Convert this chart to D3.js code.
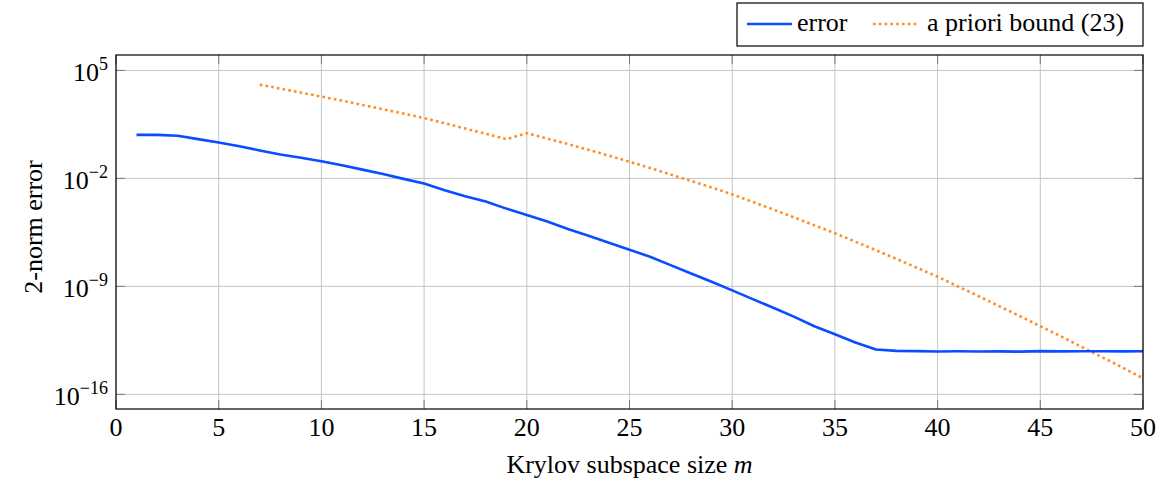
<!DOCTYPE html>
<html>
<head>
<meta charset="utf-8">
<script src="https://cdn.jsdelivr.net/npm/d3@7"></script>
<style>
  body { margin: 0; background: #fff; }
  text { font-family: "Liberation Serif", "Times New Roman", serif; fill: #000; }
</style>
</head>
<body>
<svg id="chart" width="1164" height="483"></svg>
<script>
// Krylov subspace sizes
var mError = d3.range(1, 51);
var mBound = d3.range(7, 51);

// 2-norm error, m = 1..50
var errorValues = [
  6.6e0, 6.6e0, 5.8e0, 3.5e0, 2.1e0, 1.2e0, 6.5e-1, 3.5e-1, 2.2e-1, 1.3e-1,
  7.2e-2, 3.7e-2, 1.9e-2, 9.3e-3, 4.6e-3, 1.7e-3, 6.9e-4, 3.2e-4, 1.1e-4, 4.3e-5,
  1.6e-5, 5.2e-6, 1.9e-6, 6.8e-7, 2.4e-7, 8.3e-8, 2.4e-8, 6.9e-9, 2.0e-9, 5.5e-10,
  1.5e-10, 4.1e-11, 1.1e-11, 2.6e-12, 7.9e-13, 2.3e-13, 8.1e-14, 6.6e-14, 6.3e-14, 6.0e-14,
  6.2e-14, 6.0e-14, 6.1e-14, 5.9e-14, 6.3e-14, 6.1e-14, 6.2e-14, 6.2e-14, 6.1e-14, 6.2e-14
];

// a priori bound (23), m = 7..50
var boundValues = [
  1.2e4, 6.6e3, 3.7e3, 2.0e3, 1.1e3, 5.8e2, 3.0e2, 1.6e2, 8.1e1, 3.8e1,
  1.7e1, 7.9e0, 3.5e0, 8.5e0, 3.8e0, 1.7e0, 7.1e-1, 3.0e-1, 1.2e-1, 4.8e-2,
  1.8e-2, 6.9e-3, 2.6e-3, 9.3e-4, 3.0e-4, 9.5e-5, 3.0e-5, 9.1e-6, 2.8e-6, 7.8e-7,
  2.2e-7, 6.0e-8, 1.6e-8, 4.2e-9, 9.8e-10, 2.3e-10, 5.2e-11, 1.2e-11, 2.6e-12, 5.8e-13,
  1.2e-13, 2.6e-14, 5.5e-15, 1.1e-15
];

var xTicks = [0, 5, 10, 15, 20, 25, 30, 35, 40, 45, 50];
var yTickExps = [5, -2, -9, -16];

var legendLabels = ["error", "a priori bound (23)"];

var svg = d3.select("#chart");
var pLeft = 116, pRight = 1143, pTop = 55, pBottom = 409;

var x = d3.scaleLinear().domain([0, 50]).range([pLeft, pRight]);
var y = d3.scaleLog().domain([Math.pow(10, -16.95), 1e6]).range([pBottom, pTop]);

var gridColor = "#c4c4c4", tickColor = "#7a7a7a";
var blue = "#0a4cff", orange = "#ff8c26";

// grid
var grid = svg.append("g");
grid.selectAll(".gx").data(xTicks).enter().append("line")
  .attr("x1", d => x(d)).attr("x2", d => x(d))
  .attr("y1", pTop).attr("y2", pBottom)
  .attr("stroke", gridColor).attr("stroke-width", 1);
grid.selectAll(".gy").data(yTickExps).enter().append("line")
  .attr("x1", pLeft).attr("x2", pRight)
  .attr("y1", d => y(Math.pow(10, d))).attr("y2", d => y(Math.pow(10, d)))
  .attr("stroke", gridColor).attr("stroke-width", 1);

// inner tick marks on all four sides
var tk = 9;
var ticks = svg.append("g").attr("stroke", tickColor).attr("stroke-width", 1);
xTicks.forEach(function (t) {
  ticks.append("line").attr("x1", x(t)).attr("x2", x(t)).attr("y1", pBottom).attr("y2", pBottom - tk);
  ticks.append("line").attr("x1", x(t)).attr("x2", x(t)).attr("y1", pTop).attr("y2", pTop + tk);
});
yTickExps.forEach(function (e) {
  var yy = y(Math.pow(10, e));
  ticks.append("line").attr("x1", pLeft).attr("x2", pLeft + tk).attr("y1", yy).attr("y2", yy);
  ticks.append("line").attr("x1", pRight).attr("x2", pRight - tk).attr("y1", yy).attr("y2", yy);
});

// lines
var line = d3.line()
  .x(d => x(d[0]))
  .y(d => y(d[1]));

svg.append("path")
  .datum(mBound.map((m, i) => [m, boundValues[i]]))
  .attr("d", line)
  .attr("fill", "none")
  .attr("stroke", orange)
  .attr("stroke-width", 2.6)
  .attr("stroke-dasharray", "2.6,3.2");

svg.append("path")
  .datum(mError.map((m, i) => [m, errorValues[i]]))
  .attr("d", line)
  .attr("fill", "none")
  .attr("stroke", blue)
  .attr("stroke-width", 2.6)
  .attr("stroke-linejoin", "round");

// frame
svg.append("rect")
  .attr("x", pLeft).attr("y", pTop)
  .attr("width", pRight - pLeft).attr("height", pBottom - pTop)
  .attr("fill", "none").attr("stroke", "#000").attr("stroke-width", 1.2);

// x tick labels
svg.selectAll(".xl").data(xTicks).enter().append("text")
  .attr("x", d => x(d)).attr("y", 436)
  .attr("text-anchor", "middle")
  .attr("font-size", 26)
  .text(d => d);

// y tick labels with superscripts
yTickExps.forEach(function (e) {
  var t = svg.append("text")
    .attr("x", 108).attr("y", y(Math.pow(10, e)) + 11)
    .attr("text-anchor", "end")
    .attr("font-size", 26);
  t.append("tspan").text("10");
  t.append("tspan").attr("dy", -11).attr("font-size", 18)
    .text(e < 0 ? "\u2212" + Math.abs(e) : String(e));
});

// axis labels
var xl = svg.append("text")
  .attr("x", (pLeft + pRight) / 2).attr("y", 473)
  .attr("text-anchor", "middle")
  .attr("font-size", 26);
xl.append("tspan").text("Krylov subspace size ");
xl.append("tspan").attr("font-style", "italic").text("m");

svg.append("text")
  .attr("transform", "translate(42,227) rotate(-90)")
  .attr("text-anchor", "middle")
  .attr("font-size", 26)
  .text("2-norm error");

// legend
var lg = svg.append("g");
lg.append("rect")
  .attr("x", 737).attr("y", 3).attr("width", 1143 - 737).attr("height", 43)
  .attr("fill", "#fff").attr("stroke", "#000").attr("stroke-width", 1.2);
lg.append("line").attr("x1", 747).attr("x2", 792).attr("y1", 24).attr("y2", 24)
  .attr("stroke", blue).attr("stroke-width", 2.6);
lg.append("text").attr("x", 797).attr("y", 31).attr("font-size", 26).text(legendLabels[0]);
lg.append("line").attr("x1", 873).attr("x2", 919).attr("y1", 24).attr("y2", 24)
  .attr("stroke", orange).attr("stroke-width", 2.6).attr("stroke-dasharray", "2.6,3.2");
lg.append("text").attr("x", 927).attr("y", 31).attr("font-size", 26).text(legendLabels[1]);
</script>
</body>
</html>
